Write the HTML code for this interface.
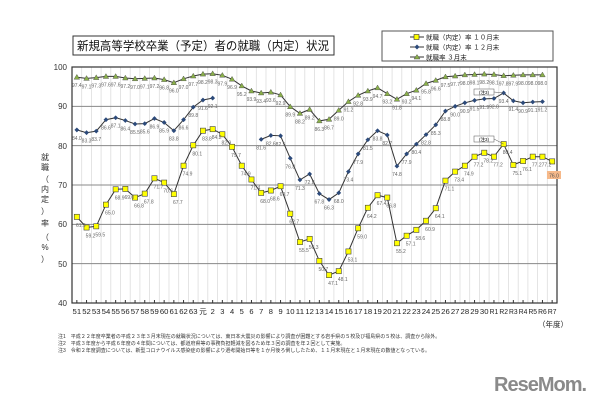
<!DOCTYPE html>
<html><head><meta charset="utf-8"><style>
body{margin:0;background:#fff;width:610px;height:400px;overflow:hidden;font-family:"Liberation Sans","Noto Sans CJK JP",sans-serif}
svg{position:absolute;left:0;top:0}
</style></head><body>
<svg id="s" width="610" height="400" xmlns="http://www.w3.org/2000/svg" font-family="Liberation Sans, Noto Sans CJK JP, sans-serif">
<rect x="73" y="36" width="261" height="19" fill="#fff" stroke="#333" stroke-width="1"/>
<text x="77" y="50" font-size="12" fill="#111" textLength="252" lengthAdjust="spacingAndGlyphs">新規高等学校卒業（予定）者の就職（内定）状況</text>
<rect x="382" y="31" width="171" height="30" fill="#fff" stroke="#555"/>
<line x1="410" y1="37" x2="424" y2="37" stroke="#333"/><rect x="414" y="34.5" width="5" height="5" fill="#ff0" stroke="#333" stroke-width="0.6"/>
<text x="426" y="39.5" font-size="6.5" fill="#222">就職（内定）率 １０月末</text>
<line x1="410" y1="47" x2="424" y2="47" stroke="#333"/><path d="M417 44.5L419.5 47 417 49.5 414.5 47Z" fill="#2c4a7a"/>
<text x="426" y="49.5" font-size="6.5" fill="#222">就職（内定）率 １２月末</text>
<line x1="410" y1="57" x2="424" y2="57" stroke="#333"/><path d="M417 54.5L420 59 414 59Z" fill="#8ab04a" stroke="#333" stroke-width="0.4"/>
<text x="426" y="59.5" font-size="6.5" fill="#222">就職率 ３月末</text>
<g id="g"></g>
<text font-size="8" fill="#333" text-anchor="end"><tspan x="67" y="70">100</tspan><tspan x="67" y="109">90</tspan><tspan x="67" y="149">80</tspan><tspan x="67" y="188">70</tspan><tspan x="67" y="227">60</tspan><tspan x="67" y="267">50</tspan><tspan x="67" y="306">40</tspan></text>
<text font-size="8" fill="#333" text-anchor="middle"><tspan x="45" y="160">就</tspan><tspan x="45" y="170">職</tspan><tspan x="45" y="182">（</tspan><tspan x="45" y="192">内</tspan><tspan x="45" y="202">定</tspan><tspan x="45" y="214">）</tspan><tspan x="45" y="226">率</tspan><tspan x="45" y="240">（</tspan><tspan x="45" y="250">%</tspan><tspan x="45" y="262">）</tspan></text>
<text x="538" y="327" font-size="7.5" fill="#222">（年度）</text>
<text font-size="5" fill="#333"><tspan x="58" y="338">注1　平成２２年度卒業者の平成２３年３月末現在の就職状況については、東日本大震災の影響により調査が困難とする岩手県の５校及び福島県の５校は、調査から除外。</tspan><tspan x="58" y="345">注2　平成３年度から平成６年度の４年間については、都道府県等の事務負担軽減を図るため年３回の調査を年２回として実施。</tspan><tspan x="58" y="352">注3　令和２年度調査については、新型コロナウイルス感染症の影響により選考開始日等を１か月後ろ倒ししたため、１１月末現在と１月末現在の数値となっている。</tspan></text>
<text x="494" y="391" font-size="20" font-weight="bold" fill="#8a8a8a" letter-spacing="-1">ReseMom.</text>
</svg>
<script>
var labs=["51","52","53","54","55","56","57","58","59","60","61","62","63","元"];
for(var i=2;i<=30;i++)labs.push(""+i);for(i=1;i<=7;i++)labs.push("R"+i);
var a=["61.9","59.2","59.5","65.0","68.9","69.0","66.8","67.8","71.7","70.6","67.7","74.9","80.1","83.8","84.2","82.9","79.7","74.9","71.4","68.0","68.6","69.7","62.7","55.5","56.3","50.7","47.1","48.1","53.1","59.0","64.2","67.4","66.8","55.2","57.1","58.6","60.9","64.1","71.1","73.4","74.9","77.2","78.2","77.2","80.4","75.1","76.1","77.2","77.2","76.0"];
var b=["84.0","83.3","83.7","86.6","87.1","86.4","85.5","85.6","86.9","85.9","83.8","86.6","89.8","91.6","92.1",null,null,null,null,"81.6","82.6","82.5","76.8","71.3","72.8","67.8","66.3","68.0","73.4","77.9","81.5","83.8","82.7","74.8","77.9","80.4","82.8","85.3","88.8","90.0","90.9","91.5","91.9","92.0","93.4","91.4","90.9","91.1","91.2",null];
var c=["97.4","97.1","97.3","97.6","97.6","97.2","97.0","97.1","97.2","96.8","96.0","97.0","97.7","98.2","98.3","97.9","96.9","95.2","93.9","93.4","93.6","92.9","89.9","88.2","89.2","86.3","86.7","89.0","91.2","92.8","93.9","94.7","93.2","91.8","93.2","94.1","95.8","96.6","97.5","97.7","98.0","98.1","98.2","98.1","97.8","97.9","98.0","98.0","98.0",null];
var L=72,R=557,T=67,B=303,w=(R-L)/50;
function X(i){return L+w*(i+0.5)}function Y(v){return B-(v-40)*(B-T)/60}
var h='<rect x="'+L+'" y="'+T+'" width="'+(R-L)+'" height="'+(B-T)+'" fill="#fff"/>';
for(i=1;i<50;i++)h+='<line x1="'+(L+w*i)+'" y1="'+T+'" x2="'+(L+w*i)+'" y2="'+B+'" stroke="#ddd" stroke-width="0.8"/>';
for(var v=50;v<=90;v+=10)h+='<line x1="'+L+'" y1="'+Y(v)+'" x2="'+R+'" y2="'+Y(v)+'" stroke="#888" stroke-width="1"/>';
h+='<rect x="'+L+'" y="'+T+'" width="'+(R-L)+'" height="'+(B-T)+'" fill="none" stroke="#333" stroke-width="1.2"/>';
for(i=0;i<50;i++){h+='<line x1="'+X(i)+'" y1="'+(B-3)+'" x2="'+X(i)+'" y2="'+B+'" stroke="#333"/>';
var lb=labs[i];h+='<text x="'+X(i)+'" y="'+(B+11)+'" font-size="7.5" text-anchor="middle" fill="#222"'+(lb.length>1?' textLength="8.6" lengthAdjust="spacingAndGlyphs"':'')+'>'+lb+'</text>';}
function ser(d,col,mk){var p='',s='',t='';for(var i=0;i<d.length;i++){if(d[i]==null){p+=' ';continue;}var x=X(i),y=Y(+d[i]);
p+=(i==0||d[i-1]==null?'M':'L')+x.toFixed(1)+' '+y.toFixed(1);
if(mk==0)s+='<rect x="'+(x-2.6)+'" y="'+(y-2.6)+'" width="5.2" height="5.2" fill="#ffff00" stroke="#444" stroke-width="0.6"/>';
else if(mk==1)s+='<path d="M'+x+' '+(y-2.4)+'L'+(x+2.4)+' '+y+' '+x+' '+(y+2.4)+' '+(x-2.4)+' '+y+'Z" fill="#2c4a7a"/>';
else s+='<path d="M'+x+' '+(y-2.8)+'L'+(x+2.8)+' '+(y+2)+' '+(x-2.8)+' '+(y+2)+'Z" fill="#8ab04a" stroke="#444" stroke-width="0.4"/>';
if(!(mk==0&&i==49))t+='<text x="'+(x+(mk==0?4:0))+'" y="'+(y+10)+'" font-size="5" text-anchor="middle" fill="#666">'+d[i]+'</text>';}
return '<path d="'+p+'" fill="none" stroke="#333" stroke-width="1"/>'+s+t;}
h+=ser(c,'',2)+ser(b,'',1)+ser(a,'',0);
h+='<rect x="547" y="171" width="14" height="8" fill="#f6b98a"/><text x="554" y="177.5" font-size="5" text-anchor="middle" fill="#555">76.0</text>';
h+='<rect x="474" y="89" width="20" height="6" fill="#fff" stroke="#555" stroke-width="0.5"/><text x="484" y="94" font-size="4.5" text-anchor="middle">(注3)</text><line x1="494" y1="92" x2="'+X(44)+'" y2="'+Y(93.4)+'" stroke="#555" stroke-width="0.5"/>';
h+='<rect x="474" y="136" width="20" height="6" fill="#fff" stroke="#555" stroke-width="0.5"/><text x="484" y="141" font-size="4.5" text-anchor="middle">(注3)</text><line x1="494" y1="139" x2="'+X(44)+'" y2="'+Y(80.4)+'" stroke="#555" stroke-width="0.5"/>';
document.getElementById('g').innerHTML=h;
</script>
</body></html>
